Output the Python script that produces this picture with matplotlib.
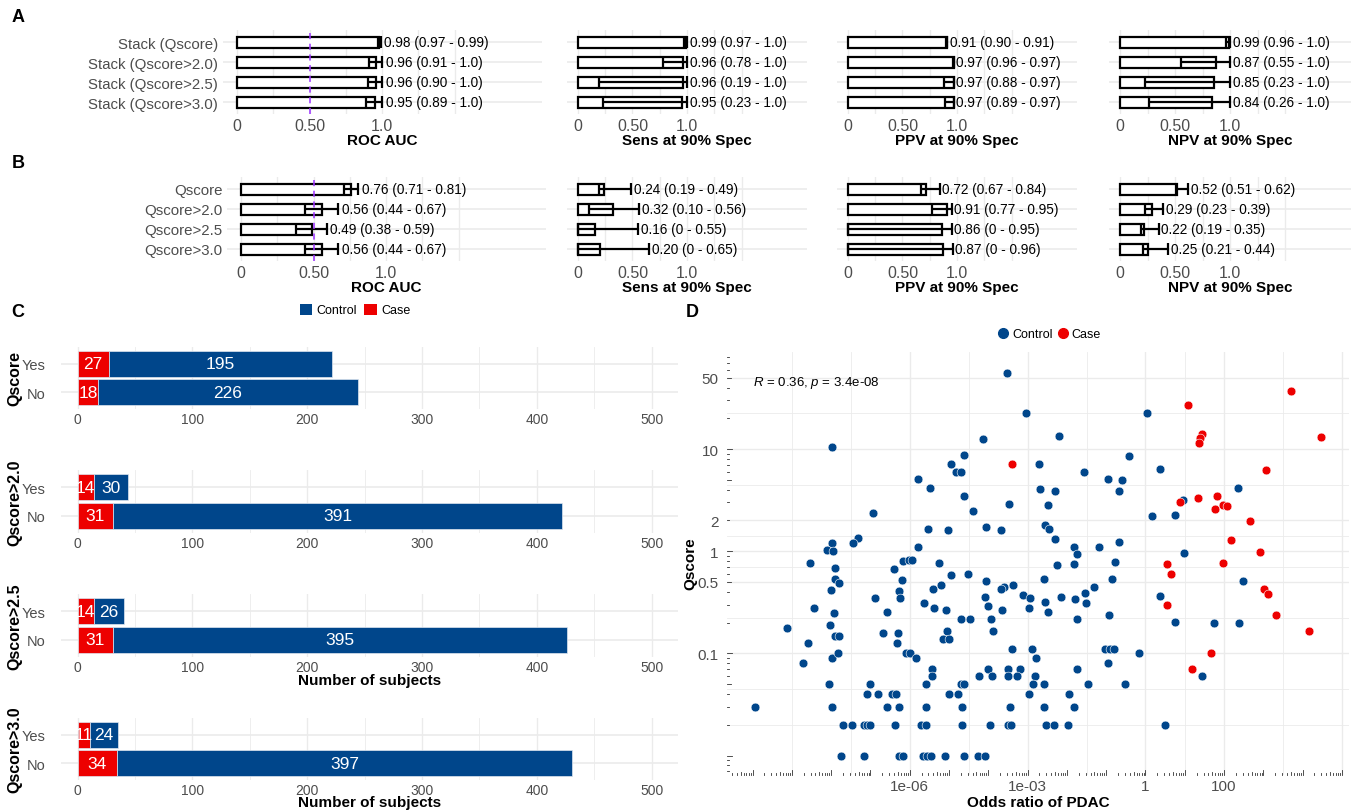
import numpy as np
import matplotlib
matplotlib.use("Agg")
import matplotlib.pyplot as plt
import matplotlib.transforms as mtrans
from matplotlib.lines import Line2D
from matplotlib.patches import Patch

plt.rcParams['font.family'] = ['Liberation Sans', 'DejaVu Sans']
plt.rcParams['mathtext.fontset'] = 'custom'
plt.rcParams['mathtext.it'] = 'Liberation Sans:italic'
plt.rcParams['mathtext.rm'] = 'Liberation Sans'

# ---------------- data ----------------
stack_labels = ["Stack (Qscore)", "Stack (Qscore>2.0)", "Stack (Qscore>2.5)", "Stack (Qscore>3.0)"]
single_labels = ["Qscore", "Qscore>2.0", "Qscore>2.5", "Qscore>3.0"]
metric_titles = ["ROC AUC", "Sens at 90% Spec", "PPV at 90% Spec", "NPV at 90% Spec"]

# Panel A (stack models): estimate, lower, upper
a_roc_est = [0.98, 0.96, 0.96, 0.95]; a_roc_lo = [0.97, 0.91, 0.90, 0.89]; a_roc_hi = [0.99, 1.0, 1.0, 1.0]
a_sens_est = [0.99, 0.96, 0.96, 0.95]; a_sens_lo = [0.97, 0.78, 0.19, 0.23]; a_sens_hi = [1.0, 1.0, 1.0, 1.0]
a_ppv_est = [0.91, 0.97, 0.97, 0.97]; a_ppv_lo = [0.90, 0.96, 0.88, 0.89]; a_ppv_hi = [0.91, 0.97, 0.97, 0.97]
a_npv_est = [0.99, 0.87, 0.85, 0.84]; a_npv_lo = [0.96, 0.55, 0.23, 0.26]; a_npv_hi = [1.0, 1.0, 1.0, 1.0]

# Panel B (single Qscore models)
b_roc_est = [0.76, 0.56, 0.49, 0.56]; b_roc_lo = [0.71, 0.44, 0.38, 0.44]; b_roc_hi = [0.81, 0.67, 0.59, 0.67]
b_sens_est = [0.24, 0.32, 0.16, 0.20]; b_sens_lo = [0.19, 0.10, 0.0, 0.0]; b_sens_hi = [0.49, 0.56, 0.55, 0.65]
b_ppv_est = [0.72, 0.91, 0.86, 0.87]; b_ppv_lo = [0.67, 0.77, 0.0, 0.0]; b_ppv_hi = [0.84, 0.95, 0.95, 0.96]
b_npv_est = [0.52, 0.29, 0.22, 0.25]; b_npv_lo = [0.51, 0.23, 0.19, 0.21]; b_npv_hi = [0.62, 0.39, 0.35, 0.44]

# Panel C (counts)
c_groups = ["Qscore", "Qscore>2.0", "Qscore>2.5", "Qscore>3.0"]
c_case_yes = [27, 14, 14, 11]
c_ctrl_yes = [195, 30, 26, 24]
c_case_no = [18, 31, 31, 34]
c_ctrl_no = [226, 391, 395, 397]

# Panel D (scatter): log10 odds ratio and Qscore
ctrl_log10_or = [
    -3.52, -3.03, -4.14, -7.97, -4.61, -4.94, -4.83, -4.70, -5.80, -5.49, -4.63, -3.48, -4.40, -6.94,
    -5.53, -5.02, -4.06, -3.67, -7.31, -7.45, -7.99,
    -2.71, -2.69, -2.19, 0.04, -0.42, 0.38, -1.56, -0.96, -0.59, -0.68, -2.31, -2.49, 2.35, 0.96,
    0.16, 0.74, -2.56, -2.46, -2.31, -0.67,
    -1.81, -1.75, -1.18, 0.97, -2.26, -1.82, -0.77, -2.58, -0.86, 2.49, -1.32, -1.55, -2.15, -1.80,
    -1.51, -2.56, -2.49, 0.38, -0.94, -1.75, 0.76, 1.74, 2.37, -1.04, -0.89, -0.80, -0.16, -0.96,
    -1.75, 1.43, -2.58, -1.46, -0.52, -1.95, -1.83, -2.57, -2.53, -2.33, -1.98, 0.49,
    -8.11, -7.94, -5.78, -8.55, -7.91, -6.39, -6.18, -6.03, -5.95, -5.25, -4.94, -4.52, -7.90, -7.79,
    -6.20, -8.01, -6.26, -6.24, -6.88, -5.40, -5.20, -4.07, -3.60, -3.68, -3.36, -3.11, -2.95, -4.09,
    -4.01, -3.65, -2.97, -8.43, -7.93, -5.63, -5.37, -5.08, -6.57, -4.70, -4.47, -3.92, -9.13, -8.02,
    -7.90, -7.79, -6.69, -6.29, -6.32, -5.04, -5.15, -4.99, -3.89, -8.60, -8.72, -7.99, -7.82, -6.09,
    -5.98, -5.84, -3.39, -2.89, -2.79, -5.43, -5.42, -4.01, -4.24, -3.90, -3.50, -3.49, -3.19, -3.27,
    -2.81, -2.87, -2.97, -8.06, -7.00, -5.58, -4.70, -4.63, -7.09, -6.80, -6.44, -6.36, -4.99, -4.76,
    -9.93, -7.99, -6.59, -6.28, -5.59, -4.67, -3.45, -7.70, -7.48, -7.16, -7.09, -7.02, -6.38, -5.70,
    -5.58, -4.66, -3.95, -3.50, -3.42, -7.76, -7.16, -6.26, -6.18, -5.65, -5.57, -5.47, -5.09, -4.62,
    -4.25, -4.08,
]
ctrl_qscore = [
    56, 22.5, 12.5, 10.5, 8.7, 7.2, 5.9, 5.9, 5.1, 4.2, 3.5, 2.9, 2.46, 2.39,
    1.65, 1.62, 1.74, 1.62, 1.34, 1.21, 1.21,
    7.2, 4.1, 13.5, 22.6, 8.6, 6.4, 5.9, 5.1, 5.0, 3.9, 3.9, 2.86, 4.2, 3.2,
    2.23, 2.24, 1.82, 1.65, 1.33, 1.24,
    1.11, 0.94, 1.09, 0.96, 0.74, 0.75, 0.78, 0.54, 0.54, 0.51, 0.445, 0.39, 0.355, 0.34,
    0.31, 0.315, 0.255, 0.366, 0.237, 0.217, 0.205, 0.198, 0.198, 0.11, 0.11, 0.11, 0.10, 0.08,
    0.07, 0.06, 0.05, 0.05, 0.05, 0.04, 0.03, 0.03, 0.02, 0.02, 0.02, 0.02,
    1.03, 1.0, 1.09, 0.76, 0.68, 0.67, 0.81, 0.83, 0.83, 0.77, 0.59, 0.60, 0.53, 0.49,
    0.52, 0.42, 0.41, 0.35, 0.35, 0.425, 0.47, 0.51, 0.45, 0.43, 0.47, 0.37, 0.35, 0.355,
    0.29, 0.267, 0.277, 0.277, 0.246, 0.31, 0.277, 0.267, 0.255, 0.215, 0.215, 0.215, 0.177, 0.188,
    0.147, 0.147, 0.157, 0.157, 0.127, 0.167, 0.138, 0.137, 0.167, 0.127, 0.08, 0.09, 0.10, 0.10,
    0.10, 0.09, 0.11, 0.11, 0.09, 0.07, 0.06, 0.07, 0.06, 0.06, 0.07, 0.06, 0.07, 0.06,
    0.06, 0.05, 0.04, 0.05, 0.05, 0.05, 0.05, 0.05, 0.04, 0.04, 0.04, 0.04, 0.04, 0.04,
    0.03, 0.03, 0.03, 0.03, 0.03, 0.03, 0.03, 0.02, 0.02, 0.02, 0.02, 0.02, 0.02, 0.02,
    0.02, 0.02, 0.02, 0.02, 0.02, 0.01, 0.01, 0.01, 0.01, 0.01, 0.01, 0.01, 0.01, 0.01,
    0.01, 0.01,
]
case_log10_or = [
    -3.40, 1.09, 3.71, 4.46, 1.45, 1.40, 1.36, 3.07, 1.83, 1.33, 0.87, 1.78, 1.98, 2.07, 2.65, 2.18,
    2.92, 0.55, 1.98, 0.65, 0.56, 3.01, 3.11, 3.33, 4.16, 1.67, 1.18,
]
case_qscore = [
    7.2, 27.3, 36.6, 13.1, 14.1, 12.7, 11.5, 6.3, 3.5, 3.3, 3.0, 2.6, 2.86, 2.75, 1.96, 1.28,
    0.99, 0.75, 0.77, 0.60, 0.30, 0.43, 0.38, 0.237, 0.167, 0.10, 0.07,
]

# ---------------- style ----------------
W, H = 1356, 812
fig = plt.figure(figsize=(W / 100, H / 100), dpi=100)
fig.patch.set_facecolor('white')

GRID = '#EBEBEB'
TXT = '#4D4D4D'
BLUE = '#00468B'
RED = '#ED0000'
PURPLE = '#9B30FF'


def add_ax(x0, y0, x1, y1):
    ax = fig.add_axes([x0 / W, 1 - y1 / H, (x1 - x0) / W, (y1 - y0) / H])
    for s in ax.spines.values():
        s.set_visible(False)
    ax.set_facecolor('none')
    return ax


def fmt(v):
    if v == 0:
        return "0"
    if v == 1:
        return "1.0"
    return f"{v:.2f}"


def metric_panel(box, labels, est, lo, hi, title, show_y, refline, title_y):
    ax = add_ax(*box)
    est = np.array(est); lo = np.array(lo); hi = np.array(hi)
    n = len(labels)
    y = np.arange(n)
    ax.set_xlim(-0.1, 2.1)
    ax.set_ylim(n - 1 + 0.6, -0.6)
    for xv in [0, 0.25, 0.5, 0.75, 1.0, 1.25, 1.5]:
        ax.axvline(xv, color=GRID, lw=1.0, zorder=0)
    for yy in y:
        ax.axhline(yy, color=GRID, lw=1.2, zorder=0)
    ax.barh(y, est, height=0.55, color='white', edgecolor='black', linewidth=1.6, zorder=2)
    ax.errorbar(est, y, xerr=[est - lo, hi - est], fmt='none', ecolor='black',
                elinewidth=1.6, capsize=4.5, capthick=1.6, zorder=3)
    if refline:
        ax.axvline(0.5, color=PURPLE, ls=(0, (4, 3)), lw=1.1, zorder=4)
    for yi, e, l, u in zip(y, est, lo, hi):
        ax.text(u + 0.025, yi, f"{fmt(e)} ({fmt(l)} - {fmt(u)})", va='center', ha='left',
                fontsize=9.8, color='black', zorder=5)
    ax.set_xticks([0, 0.5, 1.0])
    ax.set_xticklabels(["0", "0.50", "1.0"], color=TXT, fontsize=11.5)
    ax.set_yticks(y)
    if show_y:
        ax.set_yticklabels(labels, color=TXT, fontsize=10.8)
    else:
        ax.set_yticklabels([])
    ax.tick_params(length=0, pad=3)
    fig.text((box[0] + box[2]) / 2 / W, 1 - title_y / H, title, ha='center', va='center',
             fontsize=11, fontweight='bold')
    return ax


# ---------------- Panel A ----------------
a_boxes = [(222.5, 31, 541.5, 115), (567, 31, 807, 115), (837, 31, 1077, 115), (1109, 31, 1351, 115)]
a_data = [(a_roc_est, a_roc_lo, a_roc_hi), (a_sens_est, a_sens_lo, a_sens_hi),
          (a_ppv_est, a_ppv_lo, a_ppv_hi), (a_npv_est, a_npv_lo, a_npv_hi)]
for i, (box, (e, l, h)) in enumerate(zip(a_boxes, a_data)):
    metric_panel(box, stack_labels, e, l, h, metric_titles[i], i == 0, i == 0, 141)

# ---------------- Panel B ----------------
b_boxes = [(226.5, 178, 545.5, 262), (567, 178, 807, 262), (837, 178, 1077, 262), (1109, 178, 1351, 262)]
b_data = [(b_roc_est, b_roc_lo, b_roc_hi), (b_sens_est, b_sens_lo, b_sens_hi),
          (b_ppv_est, b_ppv_lo, b_ppv_hi), (b_npv_est, b_npv_lo, b_npv_hi)]
for i, (box, (e, l, h)) in enumerate(zip(b_boxes, b_data)):
    metric_panel(box, single_labels, e, l, h, metric_titles[i], i == 0, i == 0, 288)

# ---------------- Panel C ----------------
c_boxes = [(61, 348, 678, 410), (61, 471, 678, 534), (61, 595, 678, 658), (61, 719, 678, 781)]
c_xlabel = [False, False, True, True]
c_xlabel_y = [None, None, 681, 803]
for i, box in enumerate(c_boxes):
    ax = add_ax(*box)
    ax.set_xlim(-14.5, 523)
    ax.set_ylim(-0.6, 1.6)
    for xv in range(0, 501, 50):
        ax.axvline(xv, color=GRID, lw=1.0 if xv % 100 == 0 else 0.6, zorder=0)
    for yy in [0, 1]:
        ax.axhline(yy, color=GRID, lw=1.2, zorder=0)
    case_vals = [c_case_no[i], c_case_yes[i]]
    ctrl_vals = [c_ctrl_no[i], c_ctrl_yes[i]]
    ax.barh([0, 1], case_vals, height=0.9, color=RED, edgecolor='#dfe6f0', linewidth=0.5, zorder=2)
    ax.barh([0, 1], ctrl_vals, left=case_vals, height=0.9, color=BLUE, edgecolor='#dfe6f0',
            linewidth=0.5, zorder=2)
    for yy, cv, tv in zip([0, 1], case_vals, ctrl_vals):
        ax.text(cv / 2, yy, str(cv), ha='center', va='center', color='white', fontsize=12.5, zorder=3)
        ax.text(cv + tv / 2, yy, str(tv), ha='center', va='center', color='white', fontsize=12.5, zorder=3)
    ax.set_yticks([0, 1])
    ax.set_yticklabels(["No", "Yes"], color=TXT, fontsize=10.5)
    ax.set_xticks(range(0, 501, 100))
    ax.set_xticklabels([str(v) for v in range(0, 501, 100)], color=TXT, fontsize=10)
    ax.tick_params(axis='y', length=0, pad=11)
    ax.tick_params(axis='x', length=0, pad=2)
    fig.text(15 / W, 1 - ((box[1] + box[3]) / 2) / H, c_groups[i], rotation=90, ha='center',
             va='center', fontsize=11.5, fontweight='bold')
    if c_xlabel[i]:
        fig.text((box[0] + box[2]) / 2 / W, 1 - c_xlabel_y[i] / H, "Number of subjects",
                 ha='center', va='center', fontsize=11, fontweight='bold')

fig.legend(handles=[Patch(facecolor=BLUE, label='Control'), Patch(facecolor=RED, label='Case')],
           loc='center', bbox_to_anchor=(355 / W, 1 - 311 / H), ncol=2, frameon=False,
           fontsize=9, handlelength=1.0, handleheight=1.0, handletextpad=0.35,
           columnspacing=0.6, borderpad=0)

# ---------------- Panel D ----------------
axd = add_ax(727, 353, 1349, 776)
axd.set_xscale('log')
axd.set_yscale('log')
xl = (10 ** -10.65, 10 ** 5.18)
yl = (10 ** -2.19, 10 ** 1.95)
axd.set_xlim(*xl)
axd.set_ylim(*yl)
for v in [1e-6, 1e-3, 1, 100, 1e5]:
    axd.axvline(v, color=GRID, lw=1.0, zorder=0)
for v in [1e-9, 10 ** -7.5, 10 ** -4.5, 10 ** -1.5, 10, 10 ** 3.5]:
    axd.axvline(v, color=GRID, lw=0.6, zorder=0)
for v in [0.1, 0.5, 1, 2, 10, 50]:
    axd.axhline(v, color=GRID, lw=1.0, zorder=0)
for v in [0.02, 10 ** -1.35, np.sqrt(0.05), np.sqrt(0.5), np.sqrt(2), np.sqrt(20), np.sqrt(500)]:
    axd.axhline(v, color=GRID, lw=0.6, zorder=0)

axd.scatter(10 ** np.array(ctrl_log10_or), ctrl_qscore, s=40, color=BLUE, edgecolors='white',
            linewidths=0.4, zorder=3)
axd.scatter(10 ** np.array(case_log10_or), case_qscore, s=40, color=RED, edgecolors='white',
            linewidths=0.4, zorder=3)

# log ticks (bottom and left, inside)
tb = mtrans.blended_transform_factory(axd.transData, axd.transAxes)
tl = mtrans.blended_transform_factory(axd.transAxes, axd.transData)
hpx = 423.0; wpx = 622.0
for k in range(-12, 7):
    for m in range(1, 10):
        v = m * 10.0 ** k
        L = 5.0 if m == 1 else (3.5 if m == 5 else 2.0)
        if xl[0] <= v <= xl[1]:
            axd.plot([v, v], [0, L / hpx], transform=tb, color='#333333', lw=0.6, clip_on=False, zorder=4)
        if yl[0] <= v <= yl[1]:
            axd.plot([0, L / wpx], [v, v], transform=tl, color='#333333', lw=0.6, clip_on=False, zorder=4)

axd.set_xticks([1e-6, 1e-3, 1, 100])
axd.set_xticklabels(["1e-06", "1e-03", "1", "100"], color=TXT, fontsize=11)
axd.set_yticks([0.1, 0.5, 1, 2, 10, 50])
axd.set_yticklabels(["0.1", "0.5", "1", "2", "10", "50"], color=TXT, fontsize=11)
axd.minorticks_off()
axd.tick_params(axis='x', length=0, pad=3)
axd.tick_params(axis='y', length=0, pad=6)

axd.text(0.042, 0.929, r"$\it{R}$ = 0.36, $\it{p}$ = 3.4e-08", transform=axd.transAxes,
         ha='left', va='center', fontsize=9.5, color='black')

fig.text(1038 / W, 1 - 803 / H, "Odds ratio of PDAC", ha='center', va='center', fontsize=11,
         fontweight='bold')
fig.text(690 / W, 1 - 564 / H, "Qscore", rotation=90, ha='center', va='center', fontsize=11,
         fontweight='bold')

fig.legend(handles=[Line2D([], [], marker='o', ls='', color=BLUE, markersize=7, label='Control'),
                    Line2D([], [], marker='o', ls='', color=RED, markersize=7, label='Case')],
           loc='center', bbox_to_anchor=(1050 / W, 1 - 335 / H), ncol=2, frameon=False,
           fontsize=9, handlelength=0.6, handletextpad=0.4, columnspacing=0.5, borderpad=0)

# panel letters
for lab, (px, py) in zip("ABCD", [(18, 18), (18, 163), (18, 313), (692, 313)]):
    fig.text(px / W, 1 - py / H, lab, ha='center', va='center', fontsize=13, fontweight='bold')

fig.savefig("out.png", dpi=100, facecolor='white')
